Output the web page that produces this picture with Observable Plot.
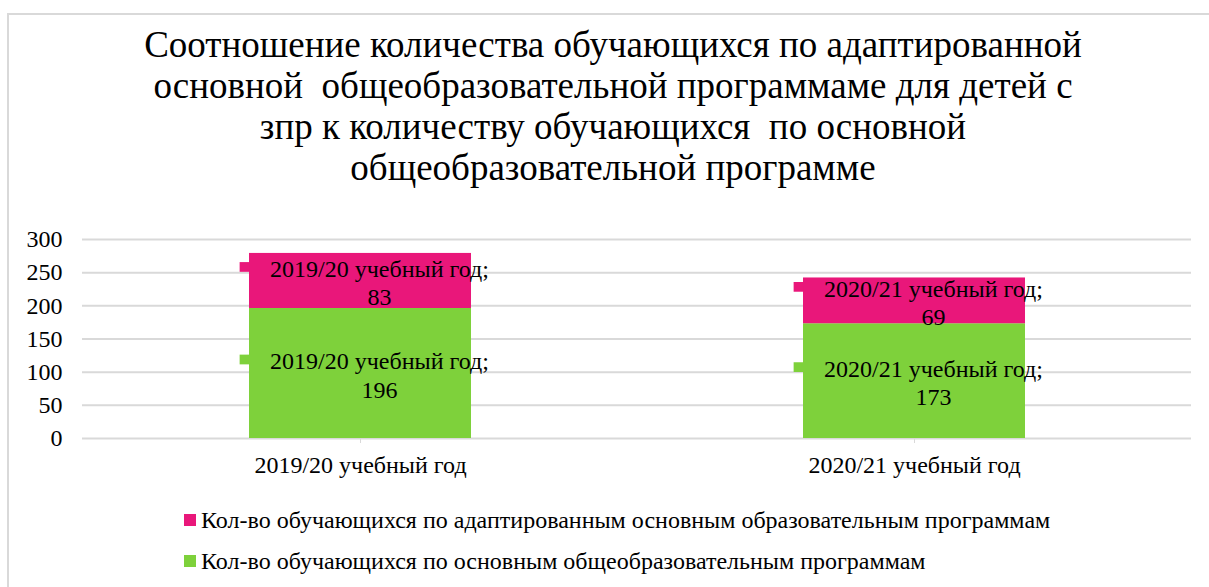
<!DOCTYPE html>
<html>
<head>
<meta charset="utf-8">
<script src="https://cdn.jsdelivr.net/npm/d3@7"></script>
<script src="https://cdn.jsdelivr.net/npm/@observablehq/plot@0.6"></script>
<style>
  html, body { margin: 0; padding: 0; background: #fff; width: 1209px; height: 587px; overflow: hidden; }
  body { position: relative; font-family: "Liberation Serif", "Times New Roman", serif; color: #000; }
  #frame { position: absolute; left: 7px; top: 13px; width: 1220px; height: 600px; border: 2px solid #d9d9d9; box-sizing: border-box; }
  #title { position: absolute; left: 13px; width: 1200px; top: 24px; text-align: center; font-size: 37px; line-height: 41px; white-space: nowrap; }
  #chart { position: absolute; left: 0; top: 190px; }
  #legend { position: absolute; left: 184px; top: 499px; font-size: 24px; white-space: nowrap; }
  .li { display: flex; align-items: center; height: 41px; margin-top: 0; }
  .sw { width: 12px; height: 12px; margin-right: 5px; }
  .li span { line-height: 24px; }
</style>
</head>
<body>
<div id="frame"></div>
<div id="title">Соотношение количества обучающихся по адаптированной<br>основной&nbsp; общеобразовательной программаме для детей с<br>зпр к количеству обучающихся&nbsp; по основной<br>общеобразовательной программе</div>
<div id="chart"></div>
<div id="legend"></div>
<script>
const years = ["2019/20 учебный год", "2020/21 учебный год"];
const seriesNames = [
  "Кол-во обучающихся по основным общеобразовательным программам",
  "Кол-во обучающихся по адаптированным основным образовательным программам"
];
const mainValues = [196, 173];
const adaptedValues = [83, 69];
const colors = ["#7ED13B", "#E9177A"];
const yTicks = [0, 50, 100, 150, 200, 250, 300];

const data = [];
years.forEach((yr, i) => {
  data.push({year: yr, series: seriesNames[0], value: mainValues[i]});
  data.push({year: yr, series: seriesNames[1], value: adaptedValues[i]});
});

const serif = "'Liberation Serif', 'Times New Roman', serif";

const chart = Plot.plot({
  width: 1209,
  height: 300,
  marginTop: 49,
  marginBottom: 52,
  marginLeft: 82,
  marginRight: 18,
  style: {fontFamily: serif, fontSize: "24px", color: "#000", background: "transparent", overflow: "visible"},
  x: {domain: years, paddingInner: 0.6, paddingOuter: 0.3, label: null},
  y: {domain: [0, 300], label: null},
  color: {domain: seriesNames, range: colors},
  marks: [
    Plot.gridY(yTicks, {stroke: "#d9d9d9", strokeOpacity: 1, strokeWidth: 2}),
    Plot.axisY({ticks: yTicks, tickSize: 0, tickPadding: 20, fontSize: 24, fontFamily: serif, label: null}),
    Plot.axisX({tickSize: 0, tickPadding: 17, fontSize: 24, fontFamily: serif, label: null}),
    Plot.barY(data, {x: "year", y: "value", fill: "series", order: seriesNames}),
    Plot.axisX({tickSize: 5, text: null, stroke: "#d9d9d9", strokeOpacity: 1, label: null}),
    Plot.text(data, Plot.stackY({
      x: "year", y: "value", z: "series", order: seriesNames,
      text: d => d.year + ";\n" + d.value,
      dx: 19, dy: 1, fontSize: 24, fontFamily: serif, lineHeight: 1.17, fill: "#000"
    })),
    Plot.dot(data, Plot.stackY({
      x: "year", y: "value", z: "series", order: seriesNames,
      fill: "series", symbol: "square", r: 5.5, dx: -116, dy: -14
    }))
  ]
});
document.getElementById("chart").appendChild(chart);

const legend = document.getElementById("legend");
[[seriesNames[1], colors[1]], [seriesNames[0], colors[0]]].forEach(([name, c]) => {
  const row = document.createElement("div");
  row.className = "li";
  const sw = document.createElement("div");
  sw.className = "sw";
  sw.style.background = c;
  const t = document.createElement("span");
  t.textContent = name;
  row.appendChild(sw);
  row.appendChild(t);
  legend.appendChild(row);
});
</script>
</body>
</html>
